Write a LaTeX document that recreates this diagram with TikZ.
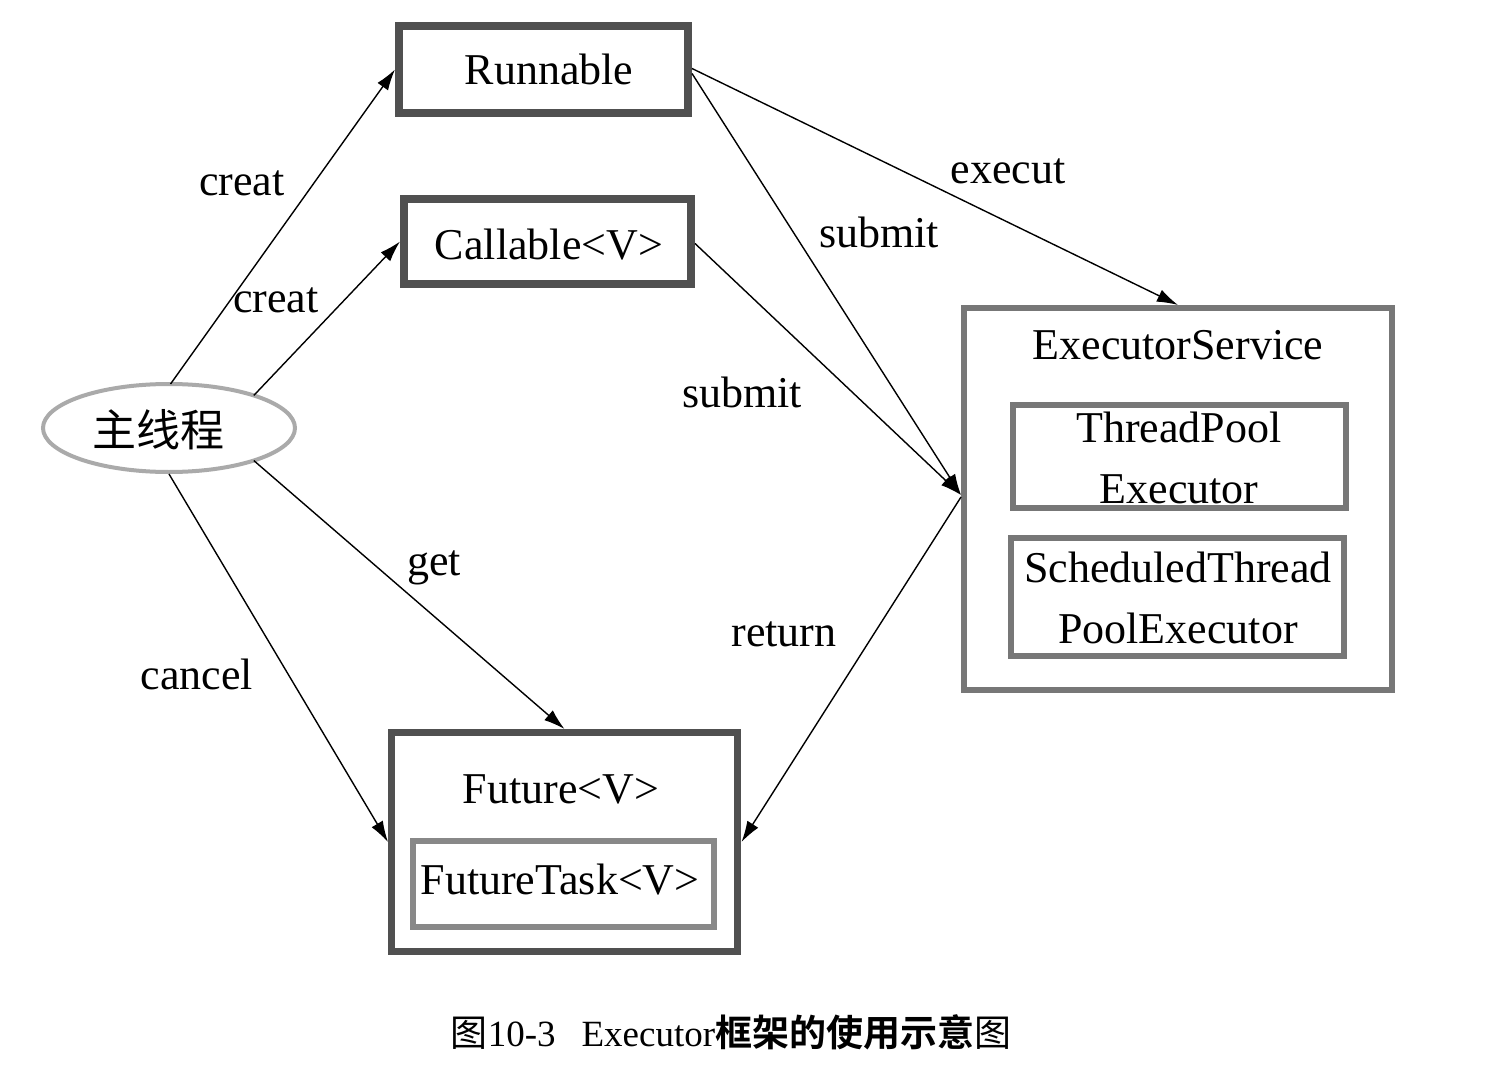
\documentclass[tikz,border=0pt]{standalone}
\usepackage{fontspec}
\setmainfont{Liberation Serif}
\newfontfamily\cjk{Noto Sans CJK SC}
\newfontfamily\cjkb{Noto Sans CJK SC Bold}
\usetikzlibrary{arrows.meta,shapes.geometric,calc}
\definecolor{darkb}{HTML}{505050}
\definecolor{midb}{HTML}{777777}
\definecolor{lightb}{HTML}{888888}
\definecolor{ellb}{HTML}{AAAAAA}
\begin{document}
\begin{tikzpicture}[x=1pt,y=-1pt,
  every node/.style={font=\fontsize{44}{61}\selectfont, inner sep=0pt, outer sep=0pt},
  darkbox/.style={draw=darkb, line width=8pt},
  graybox/.style={draw=midb, line width=6pt},
  lightbox/.style={draw=lightb, line width=6pt},
  conn/.style={draw=black, line width=1.4pt, -{Latex[length=21pt,width=13pt]}},
  lbl/.style={font=\fontsize{44}{52}\selectfont}
]
\useasboundingbox (0,0) rectangle (1486,1083);
\fill[white] (0,0) rectangle (1486,1083);

% nodes
\node[ellipse, draw=ellb, line width=4pt, minimum width=252, minimum height=88] (main) at (169,428) {};
\node (maintxt) at (158,430) {\cjk 主线程};

\node[darkbox, minimum width=289, minimum height=87] (run) at (543.5,69.5) {};
\node (runtxt) at (549,69) {Runnable};

\node[darkbox, minimum width=287, minimum height=85] (call) at (547.5,241.5) {};
\node (calltxt) at (549,245) {Callable<V>};

\node[graybox, minimum width=428, minimum height=382] (es) at (1178,499) {};
\node (estxt) at (1178,345) {ExecutorService};

\node[graybox, minimum width=333, minimum height=103] (tpe) at (1179.5,456.5) {};
\node[align=center] (tpetxt) at (1179,458) {ThreadPool\\Executor};

\node[graybox, minimum width=333, minimum height=118] (stpe) at (1177.5,597) {};
\node[align=center] (stpetxt) at (1178,598) {ScheduledThread\\PoolExecutor};

\node[darkbox, line width=7pt, minimum width=346, minimum height=219] (fut) at (564.5,842) {};
\node (futtxt) at (561,789) {Future<V>};

\node[lightbox, minimum width=301, minimum height=86] (ft) at (563.5,884) {};
\node (fttxt) at (560,880) {FutureTask<V>};

% connectors
\draw[conn] (main.88) -- ([xshift=-4pt]run.west);
\draw[conn] (main.21.5) -- ([xshift=-4pt]call.west);
\draw[conn] ([xshift=4pt,yshift=1pt]run.east) -- ([yshift=3pt]es.north);
\draw[conn] ([xshift=4pt,yshift=-4pt]run.east) -- ([xshift=-3pt,yshift=4pt]es.west);
\draw[conn] ([xshift=4pt,yshift=-2pt]call.east) -- ([xshift=-3pt,yshift=4pt]es.west);
\draw[conn] ([xshift=-3pt,yshift=2pt]es.west) -- ([xshift=4pt]fut.east);
\draw[conn] (main.-21.5) -- ([yshift=3.5pt]fut.north);
\draw[conn] ([yshift=-2pt]main.south) -- ([xshift=-3.5pt]fut.west);

% labels
\node[lbl] (l1) at (242,183) {creat};
\node[lbl] (l2) at (276,300) {creat};
\node[lbl] (l3) at (1008,171) {execut};
\node[lbl] (l4) at (879,232) {submit};
\node[lbl] (l5) at (742,392) {submit};
\node[lbl] (l6) at (784,634) {return};
\node[lbl] (l7) at (434,568) {get};
\node[lbl] (l8) at (197,674) {cancel};

% caption
\node[font=\fontsize{37}{44}\selectfont] (cap) at (731,1032)
  {{\cjk 图}10-3\hspace{0.7em}Executor{\cjkb 框架的使用示意}{\cjk 图}};
\end{tikzpicture}
\end{document}
